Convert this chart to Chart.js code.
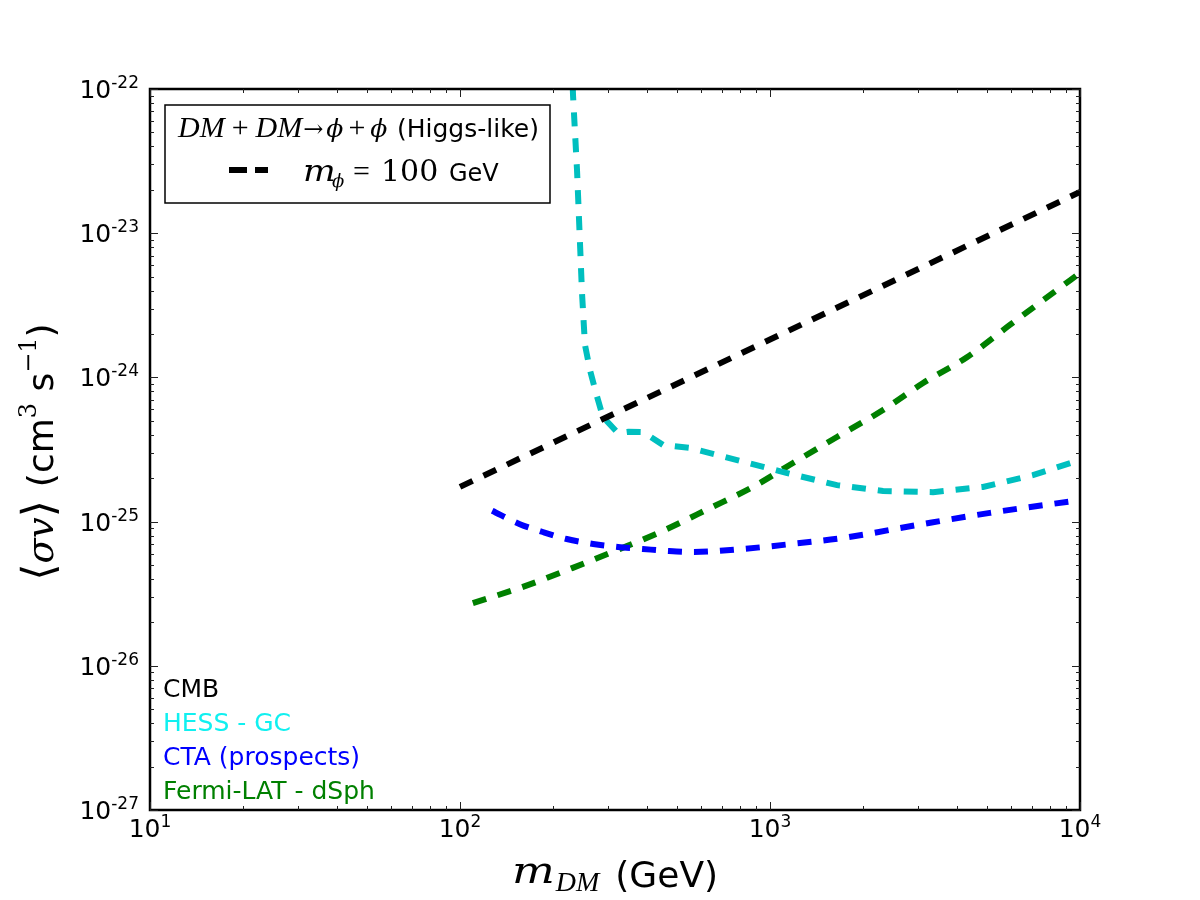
<!DOCTYPE html>
<html><head><meta charset="utf-8">
<script src="https://cdn.jsdelivr.net/npm/chart.js@4.4.1/dist/chart.umd.min.js"></script>
<style>html,body{margin:0;padding:0;background:#fff;}#wrap{width:1200px;height:900px;}</style>
</head><body><div id="wrap"><canvas id="c" width="1200" height="900"></canvas></div>
<script>
// ---- data ----
const cmbMass  = [100, 1000, 10000];
const cmbSigma = [1.74e-25, 1.83e-24, 1.93e-23];

const hessMass  = [229.6, 231.5, 238.5, 243.8, 247.5, 253, 262.7, 274.6, 289.2, 323.4, 350, 389, 452, 552, 783, 1136, 1645, 2316, 3357, 4865, 7047, 10000];
const hessSigma = [1.58e-22, 9.09e-23, 2.74e-23, 8.55e-24, 3.85e-24, 1.68e-24, 1.12e-24, 7.8e-25, 5.31e-25, 4.11e-25, 4.2e-25, 4.18e-25, 3.40e-25, 3.24e-25, 2.67e-25, 2.17e-25, 1.79e-25, 1.63e-25, 1.60e-25, 1.74e-25, 2.10e-25, 2.67e-25];

const ctaMass  = [127, 156, 185, 221, 269, 323, 389, 469, 565, 813, 1178, 1720, 2976, 5123, 10000];
const ctaSigma = [1.19e-25, 9.6e-26, 8.47e-26, 7.57e-26, 7.0e-26, 6.67e-26, 6.46e-26, 6.26e-26, 6.16e-26, 6.46e-26, 7.0e-26, 7.7e-26, 9.46e-26, 1.15e-25, 1.41e-25];

const fermiMass  = [110, 162, 230, 328, 458, 640, 881, 1186, 1644, 2315, 3118, 4318, 5940, 8000, 10000];
const fermiSigma = [2.72e-26, 3.57e-26, 4.76e-26, 6.46e-26, 8.75e-26, 1.24e-25, 1.74e-25, 2.55e-25, 3.86e-25, 5.94e-25, 9.14e-25, 1.38e-24, 2.31e-24, 3.72e-24, 5.3e-24];

const xTickExps = [1, 2, 3, 4];
const yTickExps = [-27, -26, -25, -24, -23, -22];

const labelTexts  = ['CMB', 'HESS - GC', 'CTA (prospects)', 'Fermi-LAT - dSph'];
const labelColors = ['#000000', '#10f0f0', '#0000ff', '#008000'];

// ---- helpers ----
const pts = (xs, ys) => xs.map((x, i) => ({x: x, y: ys[i]}));
const SANS = '"DejaVu Sans", sans-serif';
const SERIF = '"DejaVu Serif", serif';
const TIMES = '"Liberation Serif", serif';

function runW(ctx, r) { ctx.font = r.f; return ctx.measureText(r.t).width * (r.sx || 1) + (r.k || 0); }
function runsWidth(ctx, runs) { let w = 0; for (const r of runs) w += runW(ctx, r); return w; }
function drawRuns(ctx, runs, x, y, align) {
  const w = runsWidth(ctx, runs);
  let cx = align === 'center' ? x - w / 2 : (align === 'right' ? x - w : x);
  ctx.textAlign = 'left'; ctx.textBaseline = 'alphabetic';
  for (const r of runs) {
    if (r.x !== undefined) cx = r.x;
    ctx.font = r.f; ctx.fillStyle = r.c || '#000';
    ctx.save();
    ctx.translate(cx, y + (r.dy || 0));
    ctx.scale(r.sx || 1, 1);
    ctx.fillText(r.t, 0, 0);
    ctx.restore();
    cx += runW(ctx, r);
  }
}
function expRuns(e) {
  return [{t: '10', f: '25px ' + SANS}, {t: String(e), f: '17px ' + SANS, dy: -10}];
}

const framePlugin = {
  id: 'frame',
  afterDraw(chart) {
    const ctx = chart.ctx, a = chart.chartArea;
    const xs = chart.scales.x, ys = chart.scales.y;
    ctx.save();
    // frame
    ctx.strokeStyle = '#000'; ctx.lineWidth = 2.5;
    ctx.strokeRect(a.left, a.top, a.right - a.left, a.bottom - a.top);
    // ticks
    ctx.lineWidth = 1; ctx.strokeStyle = '#222';
    ctx.beginPath();
    for (let e = xTickExps[0]; e <= xTickExps[xTickExps.length - 1]; e++) {
      for (let m = 1; m <= 9; m++) {
        const v = m * Math.pow(10, e);
        if (v > xs.max * 1.0001) break;
        const px = Math.round(xs.getPixelForValue(v)) + 0.5;
        const L = m === 1 ? 8 : 4;
        ctx.moveTo(px, a.bottom); ctx.lineTo(px, a.bottom - L);
        ctx.moveTo(px, a.top); ctx.lineTo(px, a.top + L);
      }
    }
    for (let e = yTickExps[0]; e <= yTickExps[yTickExps.length - 1]; e++) {
      for (let m = 1; m <= 9; m++) {
        const v = m * Math.pow(10, e);
        if (v > ys.max * 1.0001) break;
        const py = Math.round(ys.getPixelForValue(v)) + 0.5;
        const L = m === 1 ? 8 : 4;
        ctx.moveTo(a.left, py); ctx.lineTo(a.left + L, py);
        ctx.moveTo(a.right, py); ctx.lineTo(a.right - L, py);
      }
    }
    ctx.stroke();
    // tick labels
    for (const e of xTickExps) {
      const px = xs.getPixelForValue(Math.pow(10, e));
      drawRuns(ctx, expRuns(e), px, a.bottom + 27, 'center');
    }
    for (const e of yTickExps) {
      const py = ys.getPixelForValue(Math.pow(10, e));
      drawRuns(ctx, expRuns(e), a.left - 11, py + 9, 'right');
    }
    // x axis title
    drawRuns(ctx, [
      {t: 'm', f: 'italic 37px ' + SERIF, sx: 1.22, dy: -4, k: 1},
      {t: 'DM', f: 'italic 28px ' + TIMES, dy: 4, k: 16},
      {t: '(GeV)', f: '36px ' + SANS}
    ], (a.left + a.right) / 2, 887, 'center');
    // y axis title
    ctx.save();
    ctx.translate(53, 452);
    ctx.rotate(-Math.PI / 2);
    drawRuns(ctx, [
      {t: '\u27E8', f: '44px ' + SERIF},
      {t: '\u03C3v', f: 'italic 37px ' + SERIF},
      {t: '\u27E9', f: '44px ' + SERIF, k: 13},
      {t: '(cm', f: '36px ' + SANS},
      {t: '3', f: '24px ' + SERIF, dy: -17},
      {t: ' s', f: '36px ' + SANS},
      {t: '\u22121', f: '24px ' + SERIF, dy: -17},
      {t: ')', f: '36px ' + SANS}
    ], 0, 0, 'center');
    ctx.restore();
    // corner labels
    labelTexts.forEach((t, i) => {
      drawRuns(ctx, [{t: t, f: '25px ' + SANS, c: labelColors[i]}], a.left + 13, 697 + i * 34, 'left');
    });
    // legend box
    const bx = 165, by = 105, bw = 385, bh = 98;
    ctx.fillStyle = '#fff'; ctx.fillRect(bx, by, bw, bh);
    ctx.strokeStyle = '#000'; ctx.lineWidth = 1.5; ctx.strokeRect(bx, by, bw, bh);
    const mf = 'italic 30px ' + TIMES, uf = '30px ' + TIMES, pf = 'italic 25px ' + SERIF;
    drawRuns(ctx, [
      {t: 'DM', f: mf, k: 7}, {t: '+', f: uf, k: 7}, {t: 'DM', f: mf, k: 1},
      {t: '\u2192', f: '24px ' + SERIF, k: 3}, {t: '\u03D5', f: pf, k: 5}, {t: '+', f: uf, k: 5},
      {t: '\u03D5', f: pf},
      {t: '(Higgs-like)', f: '25px ' + SANS, x: 397}
    ], 178, 137, 'left');
    ctx.strokeStyle = '#000'; ctx.lineWidth = 6; ctx.lineCap = 'butt';
    ctx.beginPath(); ctx.moveTo(229, 170); ctx.lineTo(247, 170); ctx.moveTo(255, 170); ctx.lineTo(268, 170); ctx.stroke();
    drawRuns(ctx, [
      {t: 'm', f: 'italic 30px ' + SERIF, sx: 1.15, x: 303}, {t: '\u03D5', f: 'italic 18px ' + SERIF, dy: 6, x: 332},
      {t: '=', f: uf, x: 353}, {t: '100', f: '30px ' + SERIF, x: 381}, {t: 'GeV', f: '24px ' + SANS, x: 449}
    ], 303, 181, 'left');
    ctx.restore();
  }
};

const common = {showLine: true, pointRadius: 0, borderWidth: 6, borderDash: [14, 12],
  borderCapStyle: 'butt', fill: false, clip: 0};

new Chart(document.getElementById('c'), {
  type: 'scatter',
  data: {datasets: [
    Object.assign({label: 'CMB', data: pts(cmbMass, cmbSigma), borderColor: '#000000'}, common),
    Object.assign({label: 'HESS - GC', data: pts(hessMass, hessSigma), borderColor: '#00bfbf', tension: 0}, common),
    Object.assign({label: 'CTA (prospects)', data: pts(ctaMass, ctaSigma), borderColor: '#0000ff', cubicInterpolationMode: 'monotone'}, common),
    Object.assign({label: 'Fermi-LAT - dSph', data: pts(fermiMass, fermiSigma), borderColor: '#008000', cubicInterpolationMode: 'monotone'}, common)
  ]},
  options: {
    responsive: false, animation: false, devicePixelRatio: 1,
    layout: {padding: {left: 150, right: 120, top: 89, bottom: 90}},
    plugins: {legend: {display: false}, tooltip: {enabled: false}},
    scales: {
      x: {type: 'logarithmic', min: 10, max: 10000, display: false},
      y: {type: 'logarithmic', min: 1e-27, max: 1e-22, display: false}
    }
  },
  plugins: [framePlugin]
});
</script></body></html>
